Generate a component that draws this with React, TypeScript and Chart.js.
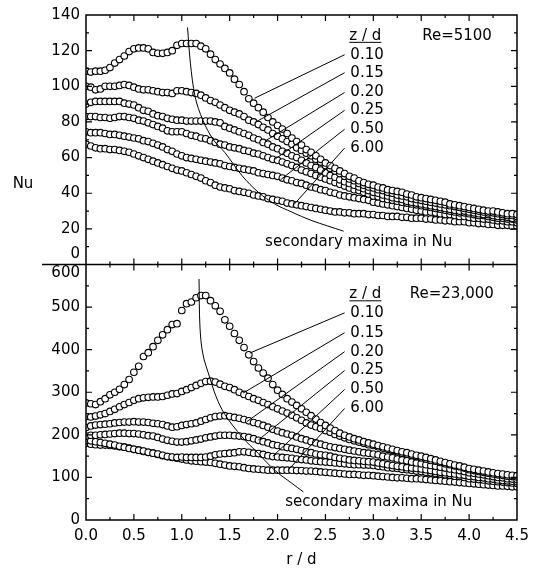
import React, { useEffect, useRef } from 'react';
import { Chart, registerables } from 'chart.js';

Chart.register(...registerables);

const FONT = '"DejaVu Sans", sans-serif';

// r/d sampling positions of the measured points
const rd = [
  0, 0.05, 0.1, 0.15, 0.2, 0.25, 0.3, 0.35, 0.4, 0.45,
  0.5, 0.55, 0.6, 0.65, 0.7, 0.75, 0.8, 0.85, 0.9, 0.95,
  1.0, 1.05, 1.1, 1.15, 1.2, 1.25, 1.3, 1.35, 1.4, 1.45,
  1.5, 1.55, 1.6, 1.65, 1.7, 1.75, 1.8, 1.85, 1.9, 1.95,
  2.0, 2.05, 2.1, 2.15, 2.2, 2.25, 2.3, 2.35, 2.4, 2.45,
  2.5, 2.55, 2.6, 2.65, 2.7, 2.75, 2.8, 2.85, 2.9, 2.95,
  3.0, 3.05, 3.1, 3.15, 3.2, 3.25, 3.3, 3.35, 3.4, 3.45,
  3.5, 3.55, 3.6, 3.65, 3.7, 3.75, 3.8, 3.85, 3.9, 3.95,
  4.0, 4.05, 4.1, 4.15, 4.2, 4.25, 4.3, 4.35, 4.4, 4.45,
  4.5,
];

const zdLabels = ['0.10', '0.15', '0.20', '0.25', '0.50', '6.00'];

// ---- Re = 5100 ----
const re5100_z010 = [
  108.5, 108, 108.5, 108.5, 109, 110.5, 113, 115, 117, 119.5,
  121, 121.5, 121.5, 121, 119, 118.5, 118.5, 119, 120, 123,
  124, 124, 124, 124, 122.5, 121, 118, 115, 112.5, 110,
  107.5, 104, 101, 97, 93, 90.5, 88, 85.5, 82.5, 80,
  78, 76, 73.5, 71, 69, 67, 64.5, 63, 61, 59,
  57, 55.5, 54, 52.5, 51, 49.5, 48.5, 47, 46, 45,
  44.5, 43.5, 43, 42, 41.5, 41, 40.5, 39.5, 39, 38,
  37.5, 37, 36.5, 36, 35.5, 35, 34, 33.5, 33, 32.5,
  32, 31.5, 31, 30.5, 30, 30, 29.5, 29, 28.5, 28.5,
  28,
];
const re5100_z015 = [
  100, 99.5, 98, 98.5, 100, 100, 100, 100.5, 101, 100.5,
  99.5, 98.5, 98, 98, 97.5, 97, 96.5, 96.5, 96, 97.5,
  97.5, 97, 96.5, 96, 95, 93.5, 92, 91, 89.5, 88,
  86.5, 85.5, 84.5, 83, 81, 80, 78.5, 77, 75.5, 73.5,
  72, 70.5, 69, 67.5, 65.5, 64, 62.5, 61, 59, 57.5,
  55.5, 54, 52.5, 51, 49.5, 48, 47, 45.5, 44.5, 43.5,
  43, 42, 41.5, 40.5, 40, 39, 38.5, 38, 37, 36.5,
  36, 35.5, 35, 34.5, 34, 33.5, 33, 32.5, 32, 31.5,
  31, 30.5, 30, 29.5, 29, 29, 28.5, 28, 27.5, 27.5,
  27,
];
const re5100_z020 = [
  90, 91, 91.5, 91.5, 91.5, 91.5, 91.5, 91.5, 90.5, 90,
  89.5, 88, 86.5, 86, 84.5, 83.5, 83, 82, 81.5, 81,
  81, 80.5, 80.5, 80.5, 80.5, 80.5, 80.5, 80, 79.5, 77.5,
  76.5, 75.5, 74.5, 73.5, 72.5, 71, 70, 68.5, 67.5, 66,
  65, 63.5, 62.5, 61, 60, 58.5, 57, 55.5, 54.5, 53,
  51.5, 50, 49, 47.5, 46.5, 45.5, 44.5, 43.5, 42.5, 41.5,
  40.5, 40, 39, 38.5, 37.5, 37, 36.5, 35.5, 35, 34.5,
  34, 33.5, 33, 32.5, 32, 31.5, 31, 30.5, 30, 30,
  29.5, 29, 28.5, 28, 28, 27.5, 27, 27, 26.5, 26,
  26,
];
const re5100_z025 = [
  83, 83, 83, 82.5, 82.5, 82, 82.5, 83, 83, 82.5,
  82, 81, 80.5, 79.5, 78.5, 77.5, 76.5, 75, 74.5, 74.5,
  74.5, 73.5, 72.5, 72, 71, 70.5, 69.5, 68.5, 67.5, 67,
  66, 65.5, 65, 64, 63.5, 62.5, 62, 61, 60, 59,
  58.5, 57.5, 56.5, 55.5, 54.5, 53, 52, 51, 50, 49,
  48, 47, 46, 45, 44, 43, 42, 41.5, 40.5, 39.5,
  38.5, 38, 37, 36.5, 36, 35.5, 35, 34.5, 34, 33.5,
  33, 32.5, 32, 31.5, 31, 30.5, 30, 29.5, 29, 29,
  28.5, 28, 27.5, 27.5, 27, 26.5, 26, 26, 25.5, 25.5,
  25,
];
const re5100_z050 = [
  74.5, 74, 74, 74, 73.5, 73, 73, 72.5, 72, 71.5,
  71, 70.5, 69.5, 69, 68, 67, 66, 64.5, 63.5, 62,
  61, 60, 59.5, 59, 58.5, 58, 57.5, 57, 56.5, 55.5,
  55, 54.5, 54, 53.5, 53, 52.5, 51.5, 51, 50.5, 50,
  49.5, 48.5, 47.5, 47, 46, 45.5, 44.5, 43.5, 43, 42,
  41.5, 40.5, 40, 39, 38.5, 38, 37.5, 37, 36.5, 36,
  35, 34.5, 34, 33.5, 33, 32.5, 32, 31.5, 31, 30.5,
  30, 29.5, 29.5, 29, 28.5, 28, 28, 27.5, 27, 27,
  26.5, 26, 26, 25.5, 25.5, 25, 24.5, 24.5, 24, 24,
  23.5,
];
const re5100_z600 = [
  67.5, 66.5, 65.5, 65, 65, 64.5, 64.5, 64, 63.5, 63,
  62, 61, 60, 59, 58, 57, 56, 55, 54, 53,
  52.5, 51.5, 50.5, 49.5, 48.5, 47, 46, 44.5, 43.5, 43,
  42.5, 41.5, 41, 40.5, 40, 39, 38.5, 38, 37, 36.5,
  36, 35.5, 34.5, 34, 33.5, 33, 32.5, 32, 31.5, 31,
  30.5, 30, 29.5, 29.5, 29, 29, 28.5, 28.5, 28.5, 28,
  28, 27.5, 27.5, 27, 27, 27, 26.5, 26.5, 26, 26,
  26, 25.5, 25.5, 25, 25, 24.5, 24.5, 24, 24, 24,
  23.5, 23.5, 23, 23, 22.5, 22.5, 22, 22, 22, 21.5,
  21.5,
];

// ---- Re = 23,000 ----
const re23000_z010 = [
  275, 273, 271, 278, 285, 294, 300, 307, 318, 330,
  347, 361, 384, 393, 407, 422, 435, 447, 459, 461,
  492, 508, 512, 522, 527, 527, 515, 503, 490, 470,
  455, 438, 422, 405, 388, 372, 357, 345, 333, 318,
  305, 295, 285, 277, 269, 261, 253, 245, 237, 229,
  222, 216, 210, 204, 199, 195, 191, 188, 184, 181,
  178, 175, 172, 169, 166, 163, 160, 158, 155, 152,
  150, 147, 144, 141, 138, 135, 132, 129, 127, 124,
  121, 119, 117, 115, 113, 111, 109, 108, 106, 105,
  104,
];
const re23000_z015 = [
  243, 242, 244, 247, 250, 255, 260, 266, 271, 276,
  281, 285, 287, 288, 289, 289, 290, 293, 296, 297,
  302, 306, 311, 316, 321, 325, 326, 324, 319, 314,
  311, 306, 300, 295, 290, 285, 281, 276, 271, 266,
  261, 256, 251, 246, 240, 234, 228, 223, 219, 215,
  210, 206, 201, 197, 193, 189, 186, 183, 180, 177,
  175, 172, 169, 166, 163, 160, 157, 155, 152, 149,
  146, 143, 140, 138, 135, 132, 130, 127, 125, 122,
  118, 116, 114, 112, 110, 108, 106, 105, 103, 102,
  101,
];
const re23000_z020 = [
  217, 221, 223, 224, 225, 226, 228, 229, 230, 230,
  231, 230, 230, 229, 227, 226, 224, 221, 218, 219,
  222, 224, 226, 228, 232, 236, 240, 243, 244, 245,
  243, 241, 239, 236, 233, 229, 226, 222, 218, 213,
  209, 205, 202, 199, 195, 191, 188, 184, 181, 178,
  175, 172, 170, 168, 166, 164, 162, 160, 158, 157,
  155, 153, 150, 148, 146, 143, 141, 139, 136, 134,
  132, 130, 128, 126, 124, 122, 120, 118, 116, 114,
  111, 110, 108, 106, 104, 102, 100, 99, 97, 96,
  95,
];
const re23000_z025 = [
  197, 199, 199, 200, 201, 202, 203, 204, 204, 203,
  203, 202, 200, 198, 197, 194, 190, 187, 185, 183,
  183, 184, 186, 188, 190, 193, 195, 197, 199, 199,
  199, 198, 197, 196, 194, 191, 187, 184, 181, 177,
  175, 172, 170, 168, 166, 163, 160, 158, 155, 153,
  152, 150, 147, 145, 143, 141, 140, 139, 138, 137,
  136, 134, 132, 130, 128, 126, 125, 123, 122, 121,
  120, 118, 116, 114, 112, 111, 109, 108, 106, 105,
  103, 102, 100, 99, 97, 96, 94, 93, 92, 91,
  90,
];
const re23000_z050 = [
  187, 186, 184, 182, 180, 178, 176, 173, 171, 168,
  166, 164, 162, 159, 157, 155, 152, 149, 148, 147,
  148, 147, 147, 147, 147, 148, 150, 153, 155, 156,
  157, 158, 160, 160, 159, 157, 156, 154, 151, 149,
  148, 147, 146, 145, 143, 142, 141, 139, 138, 137,
  136, 135, 134, 133, 132, 131, 130, 130, 129, 129,
  128, 126, 125, 123, 122, 121, 119, 118, 117, 115,
  114, 112, 111, 109, 108, 106, 105, 103, 102, 100,
  97, 96, 95, 94, 92, 91, 90, 89, 88, 87,
  86,
];
const re23000_z600 = [
  180, 178, 177, 176, 176, 175, 174, 172, 171, 169,
  166, 164, 161, 159, 157, 154, 151, 149, 147, 145,
  143, 141, 139, 138, 137, 136, 135, 133, 131, 129,
  127, 126, 125, 123, 121, 120, 119, 118, 117, 117,
  117, 117, 117, 117, 116, 116, 115, 115, 114, 113,
  112, 111, 110, 109, 108, 107, 107, 106, 105, 105,
  104, 103, 102, 101, 100, 99, 99, 98, 97, 97,
  96, 95, 94, 93, 92, 91, 90, 89, 88, 87,
  86, 85, 84, 83, 82, 81, 80, 80, 79, 78,
  78,
];

// "secondary maxima in Nu" locus (data units)
const maxLocusTopR = [1.06, 1.09, 1.14, 1.22, 1.33, 1.45, 1.63, 1.8, 1.97, 2.15, 2.35, 2.69];
const maxLocusTopNu = [133, 113, 94, 81, 70, 62.8, 49.8, 40.5, 34, 29.4, 24.8, 18.7];
const maxLocusBotR = [1.18, 1.19, 1.22, 1.29, 1.36, 1.45, 1.63, 1.8, 1.97, 2.15, 2.27];
const maxLocusBotNu = [566, 453, 390, 336, 289, 248, 195, 156, 117, 86, 66];

// label leaders: from label (leaderStartR, label Nu) to a point on its curve
const leaderStartR = 2.7;
const labelR = 2.76;
const topLabelNu = [117.7, 107.6, 96.5, 86.5, 75.9, 65.3];
const botLabelNu = [486.5, 439.8, 395.3, 350.9, 306.4, 261.9];
const topLeaderEndR = [1.76, 1.76, 1.87, 1.97, 2.03, 2.16];
const topLeaderEndNu = [93.3, 79.6, 69.3, 59, 47.5, 33];
const botLeaderEndR = [1.71, 1.64, 1.68, 1.8, 1.95, 2.11];
const botLeaderEndNu = [392, 298, 231, 188, 150, 117];

const topSeries = [re5100_z010, re5100_z015, re5100_z020, re5100_z025, re5100_z050, re5100_z600];
const botSeries = [re23000_z010, re23000_z015, re23000_z020, re23000_z025, re23000_z050, re23000_z600];

const toPts = (xs: number[], ys: number[]) => xs.map((x, i) => ({ x, y: ys[i] }));

const lineDs = (data: { x: number; y: number }[], axis: string, tension = 0) => ({
  data,
  yAxisID: axis,
  showLine: true,
  pointRadius: 0,
  borderColor: '#000',
  borderWidth: 1,
  tension,
  fill: false,
});

const pointDs = (ys: number[], axis: string, label: string) => ({
  label,
  data: toPts(rd, ys),
  yAxisID: axis,
  showLine: false,
  pointRadius: 3.3,
  pointBorderWidth: 1.1,
  pointBackgroundColor: '#fff',
  pointBorderColor: '#000',
});

const overlay = {
  id: 'overlay',
  afterDraw(chart: any) {
    const ctx = chart.ctx as CanvasRenderingContext2D;
    const { left, right } = chart.chartArea;
    const sx = chart.scales.x;
    const yT = chart.scales.yTop;
    const yB = chart.scales.yBot;
    const mid = yT.getPixelForValue(0);
    ctx.save();
    ctx.strokeStyle = '#000';
    ctx.fillStyle = '#000';

    // frame and divider
    ctx.lineWidth = 1.5;
    ctx.strokeRect(left, yT.getPixelForValue(140), right - left, yB.getPixelForValue(0) - yT.getPixelForValue(140));
    ctx.beginPath();
    ctx.moveTo(left - 44, mid);
    ctx.lineTo(right, mid);
    ctx.stroke();

    // inward ticks
    ctx.lineWidth = 1.2;
    const vTicks = (scale: any, vals: number[], len: number) => {
      vals.forEach((v) => {
        const p = scale.getPixelForValue(v);
        ctx.beginPath();
        ctx.moveTo(left, p); ctx.lineTo(left + len, p);
        ctx.moveTo(right, p); ctx.lineTo(right - len, p);
        ctx.stroke();
      });
    };
    const hTicks = (py: number, dir: number, vals: number[], len: number) => {
      vals.forEach((v) => {
        const p = sx.getPixelForValue(v);
        ctx.beginPath();
        ctx.moveTo(p, py); ctx.lineTo(p, py + dir * len);
        ctx.stroke();
      });
    };
    vTicks(yT, [20, 40, 60, 80, 100, 120], 6);
    vTicks(yT, [10, 30, 50, 70, 90, 110, 130], 3);
    vTicks(yB, [100, 200, 300, 400, 500], 6);
    vTicks(yB, [50, 150, 250, 350, 450, 550], 3);
    const xMaj = [0.5, 1, 1.5, 2, 2.5, 3, 3.5, 4];
    const xMin = [0.25, 0.75, 1.25, 1.75, 2.25, 2.75, 3.25, 3.75, 4.25];
    const topEdge = yT.getPixelForValue(140);
    const botEdge = yB.getPixelForValue(0);
    hTicks(topEdge, 1, xMaj, 6); hTicks(topEdge, 1, xMin, 3);
    hTicks(mid, -1, xMaj, 6); hTicks(mid, -1, xMin, 3);
    hTicks(mid, 1, xMaj, 6); hTicks(mid, 1, xMin, 3);
    hTicks(botEdge, -1, xMaj, 6); hTicks(botEdge, -1, xMin, 3);

    // texts
    ctx.font = `15px ${FONT}`;
    ctx.textBaseline = 'middle';
    ctx.textAlign = 'right';
    ctx.fillText('0', left - 6, mid - 10);
    ctx.fillText('600', left - 6, mid + 9);
    ctx.textAlign = 'center';
    ctx.fillText('Nu', 23, yT.getPixelForValue(45));

    const panel = (ys: any, labelNu: number[], zdNu: number, reText: string, reR: number, secR: number, secNu: number) => {
      ctx.textAlign = 'left';
      const lx = sx.getPixelForValue(labelR);
      labelNu.forEach((v, i) => ctx.fillText(zdLabels[i], lx, ys.getPixelForValue(v)));
      const zy = ys.getPixelForValue(zdNu);
      ctx.fillText('z / d', lx - 1, zy);
      const w = ctx.measureText('z / d').width;
      ctx.lineWidth = 1;
      ctx.beginPath();
      ctx.moveTo(lx - 1, zy + 6.5); ctx.lineTo(lx - 1 + w, zy + 6.5);
      ctx.stroke();
      ctx.fillText(reText, sx.getPixelForValue(reR), zy);
      ctx.fillText('secondary maxima in Nu', sx.getPixelForValue(secR), ys.getPixelForValue(secNu));
    };
    panel(yT, topLabelNu, 128.3, 'Re=5100', 3.51, 1.87, 12.8);
    panel(yB, botLabelNu, 530, 'Re=23,000', 3.38, 2.08, 42);
    ctx.restore();
  },
};

export default function App() {
  const ref = useRef<HTMLCanvasElement>(null);
  useEffect(() => {
    const datasets: any[] = [];
    zdLabels.forEach((_, i) => {
      datasets.push(lineDs([{ x: leaderStartR, y: topLabelNu[i] }, { x: topLeaderEndR[i], y: topLeaderEndNu[i] }], 'yTop'));
      datasets.push(lineDs([{ x: leaderStartR, y: botLabelNu[i] }, { x: botLeaderEndR[i], y: botLeaderEndNu[i] }], 'yBot'));
    });
    datasets.push(lineDs(toPts(maxLocusTopR, maxLocusTopNu), 'yTop', 0.35));
    datasets.push(lineDs(toPts(maxLocusBotR, maxLocusBotNu), 'yBot', 0.35));
    topSeries.forEach((ys, i) => datasets.push(pointDs(ys, 'yTop', `Re=5100, z/d=${zdLabels[i]}`)));
    botSeries.forEach((ys, i) => datasets.push(pointDs(ys, 'yBot', `Re=23,000, z/d=${zdLabels[i]}`)));

    const tickFont = { family: FONT, size: 15 };
    const chart = new Chart(ref.current as HTMLCanvasElement, {
      type: 'scatter',
      data: { datasets },
      options: {
        animation: false,
        responsive: false,
        maintainAspectRatio: false,
        layout: { padding: { top: 12, right: 22, left: 0, bottom: 0 } },
        plugins: { legend: { display: false }, tooltip: { enabled: false } },
        scales: {
          x: {
            type: 'linear',
            min: 0,
            max: 4.5,
            position: 'bottom',
            grid: { display: false, drawTicks: false },
            border: { display: false },
            ticks: {
              stepSize: 0.5,
              padding: 7,
              color: '#000',
              font: tickFont,
              maxRotation: 0,
              autoSkip: false,
              callback: (v: any) => Number(v).toFixed(1),
            },
            title: { display: true, text: 'r / d', color: '#000', font: tickFont, padding: { top: 4, bottom: 6 } },
            afterFit: (s: any) => { s.height = 55; },
          },
          yTop: {
            type: 'linear',
            position: 'left',
            stack: 'panels',
            stackWeight: 251,
            weight: 2,
            offset: false,
            min: 0,
            max: 140,
            grid: { display: false, drawTicks: false },
            border: { display: false },
            ticks: {
              stepSize: 20,
              padding: 6,
              autoSkip: false,
              color: '#000',
              font: tickFont,
              callback: (v: any) => (v === 0 ? '' : String(v)),
            },
            afterFit: (s: any) => { s.width = 86; },
          },
          yBot: {
            type: 'linear',
            position: 'left',
            stack: 'panels',
            stackWeight: 257,
            weight: 1,
            offset: false,
            min: 0,
            max: 600,
            grid: { display: false, drawTicks: false },
            border: { display: false },
            ticks: {
              stepSize: 100,
              padding: 6,
              autoSkip: false,
              color: '#000',
              font: tickFont,
              callback: (v: any) => (v === 600 ? '' : String(v)),
            },
            afterFit: (s: any) => { s.width = 86; },
          },
        },
      } as any,
      plugins: [overlay],
    });
    return () => chart.destroy();
  }, []);
  return (
    <div style={{ position: 'absolute', left: 0, top: 0, width: 539, height: 575, background: '#fff' }}>
      <canvas ref={ref} width={539} height={575} style={{ display: 'block' }} />
    </div>
  );
}
